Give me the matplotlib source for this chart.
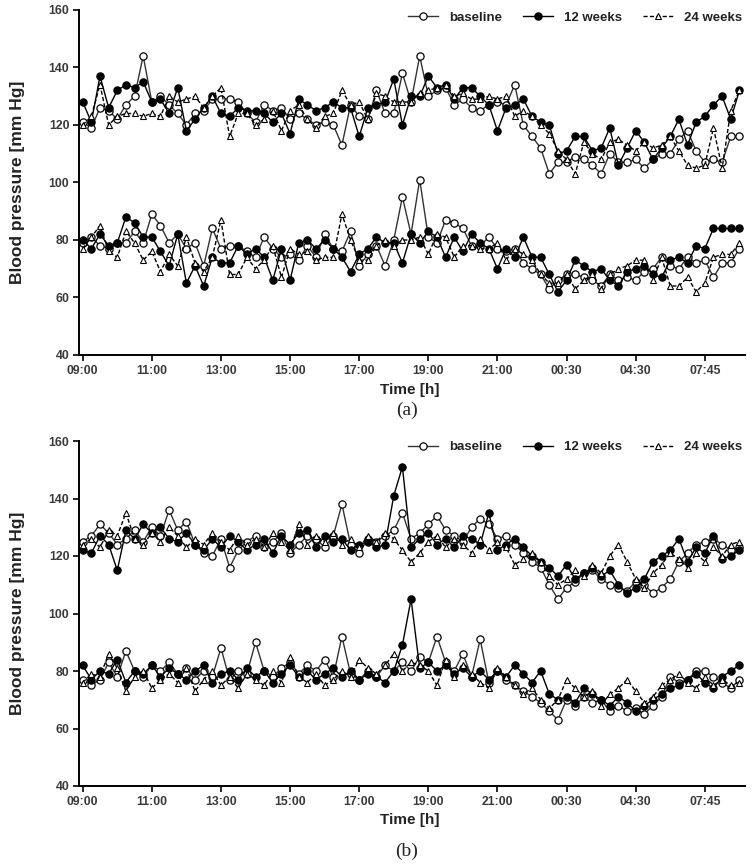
import matplotlib
matplotlib.use("Agg")
import matplotlib.pyplot as plt
from matplotlib.lines import Line2D

# ---------------- data ----------------
tick_labels = ["09:00", "11:00", "13:00", "15:00", "17:00", "19:00", "21:00", "00:30", "04:30", "07:45"]
series_names = ["baseline", "12 weeks", "24 weeks"]

# panel (a) systolic
base_s_a = [121, 119, 126, 125, 122, 127, 130, 144, 128, 130, 127, 124, 120, 124, 125, 129, 129, 129, 128, 124,
            121, 127, 125, 126, 122, 124, 122,
            120, 121, 120, 113, 127, 123, 122, 132, 124, 124, 138, 128, 144, 130, 132, 133, 127, 129, 126, 125,
            127, 128, 127, 134, 120, 116, 112,
            103, 107, 107, 109, 108, 106, 103, 110, 107, 107, 108, 105, 108, 110, 110, 115, 118, 111, 107, 108,
            107, 116, 116]
w12_s_a = [128, 121, 137, 126, 132, 134, 133, 135, 128, 129, 124, 133, 118, 122, 126, 130, 124, 123, 126, 125,
           125, 124, 121, 124, 117, 129, 127,
           125, 126, 128, 126, 126, 116, 126, 127, 128, 136, 120, 130, 130, 137, 133, 134, 129, 133, 133, 130,
           127, 118, 126, 127, 129, 123, 121,
           120, 110, 111, 116, 116, 111, 112, 119, 106, 112, 118, 114, 108, 112, 116, 122, 113, 121, 123, 127,
           130, 122, 132]
w24_s_a = [120, 123, 134, 120, 123, 124, 124, 123, 124, 123, 130, 128, 129, 130, 126, 130, 133, 116, 124, 124,
           120, 122, 125, 118, 125, 127, 122,
           119, 123, 124, 132, 127, 128, 122, 131, 130, 128, 128, 128, 131, 132, 133, 134, 130, 131, 129, 129,
           130, 129, 130, 123, 125, 123, 120,
           117, 111, 108, 103, 114, 110, 108, 114, 115, 113, 111, 114, 112, 113, 116, 111, 106, 105, 106, 119,
           105, 125, 132]
# panel (a) diastolic
base_d_a = [79, 81, 78, 77, 79, 79, 83, 79, 89, 85, 79, 82, 77, 79, 71, 84, 77, 78, 78, 76, 74, 81, 77, 74, 75,
            73, 78,
            74, 82, 77, 76, 83, 71, 75, 78, 71, 80, 95, 82, 101, 81, 79, 87, 86, 84, 78, 78, 81, 77, 76, 77, 72,
            70, 68,
            63, 66, 68, 68, 67, 66, 64, 68, 66, 67, 66, 69, 70, 74, 71, 70, 74, 72, 73, 67, 72, 72, 77]
w12_d_a = [80, 77, 82, 78, 79, 88, 86, 81, 81, 76, 71, 82, 65, 71, 64, 74, 72, 72, 78, 75, 77, 74, 66, 77, 66,
           79, 80,
           77, 80, 77, 74, 69, 75, 77, 81, 79, 79, 72, 82, 79, 83, 81, 74, 81, 76, 82, 79, 77, 70, 77, 74, 81,
           74, 74,
           68, 62, 66, 73, 71, 69, 70, 66, 64, 69, 70, 71, 68, 67, 73, 74, 72, 78, 77, 84, 84, 84, 84]
w24_d_a = [77, 81, 85, 76, 74, 83, 79, 73, 76, 69, 75, 71, 81, 72, 69, 74, 87, 68, 68, 74, 70, 73, 78, 67, 77,
           75, 76,
           73, 74, 74, 89, 80, 73, 73, 78, 80, 78, 80, 80, 81, 75, 82, 81, 74, 78, 78, 77, 77, 79, 73, 77, 75,
           73, 68,
           65, 65, 68, 63, 66, 68, 63, 68, 70, 71, 73, 73, 66, 74, 64, 64, 67, 62, 65, 74, 75, 75, 79]

# panel (b) systolic
base_s_b = [125, 127, 131, 128, 124, 126, 129, 125, 130, 127,
            136, 129, 132, 124, 121, 120, 126, 116, 122, 125,
            127, 123, 125, 128, 121, 124, 127, 126, 123, 127,
            138, 124, 121, 126, 125, 127, 129, 135, 126, 128,
            131, 134, 129, 127, 125, 130, 133, 131, 126, 127,
            124, 121, 118, 116, 110, 105, 109, 111, 114, 115,
            112, 110, 109, 108, 111, 110, 107, 109, 112, 118,
            121, 124, 125, 126, 124, 122, 123]
w12_s_b = [122, 121, 127, 124, 115, 129, 126, 131, 128, 130,
           126, 125, 128, 124, 122, 126, 123, 127, 125, 122,
           124, 126, 121, 127, 124, 128, 129, 123, 127, 125,
           126, 122, 124, 125, 123, 124, 141, 151, 123, 126,
           128, 124, 126, 123, 127, 126, 124, 135, 122, 124,
           126, 123, 120, 118, 116, 113, 117, 112, 114, 116,
           113, 115, 110, 107, 109, 112, 118, 120, 122, 126,
           118, 123, 121, 127, 119, 120, 122]
w24_s_b = [124, 126, 123, 129, 127, 135, 126, 124, 128, 125,
           130, 127, 123, 126, 124, 128, 125, 122, 127, 124,
           126, 123, 128, 125, 122, 131, 124, 127, 125, 128,
           124, 126, 123, 127, 125, 128, 126, 122, 118, 121,
           125, 127, 123, 126, 124, 121, 126, 122, 125, 123,
           117, 119, 121, 118, 113, 110, 112, 115, 113, 117,
           114, 120, 124, 118, 112, 109, 114, 117, 121, 119,
           116, 121, 118, 123, 120, 124, 125]
# panel (b) diastolic
base_d_b = [77, 75, 77, 83, 78, 87, 80, 78, 82, 80,
            83, 79, 81, 77, 80, 78, 88, 77, 80, 79,
            90, 80, 78, 81, 83, 79, 82, 80, 84, 78,
            92, 79, 77, 80, 78, 82, 80, 83, 80, 85,
            83, 92, 83, 80, 86, 78, 91, 76, 80, 77,
            75, 73, 71, 69, 66, 63, 70, 68, 71, 69,
            70, 66, 68, 66, 67, 65, 68, 71, 78, 76,
            77, 80, 80, 78, 76, 74, 77]
w12_d_b = [82, 77, 80, 79, 84, 76, 80, 79, 82, 78,
           81, 79, 77, 80, 82, 76, 79, 80, 77, 81,
           78, 80, 76, 79, 82, 78, 80, 77, 79, 81,
           78, 80, 77, 79, 78, 76, 80, 89, 105, 81,
           83, 80, 82, 79, 81, 78, 80, 77, 80, 78,
           82, 79, 76, 80, 72, 70, 71, 69, 74, 72,
           70, 68, 71, 69, 66, 68, 70, 72, 74, 75,
           77, 79, 76, 74, 78, 80, 82]
w24_d_b = [76, 79, 78, 86, 81, 73, 78, 80, 74, 77,
           79, 76, 81, 73, 77, 80, 75, 78, 74, 79,
           77, 75, 80, 76, 85, 78, 76, 79, 75, 77,
           80, 78, 84, 81, 79, 82, 86, 80, 83, 82,
           80, 75, 84, 78, 82, 79, 76, 74, 81, 78,
           75, 72, 74, 70, 67, 70, 77, 74, 71, 73,
           68, 72, 74, 77, 73, 69, 71, 75, 77, 79,
           76, 74, 78, 75, 77, 75, 76]

# ---------------- style ----------------
plt.rcParams['font.family'] = ['Liberation Sans', 'DejaVu Sans']
TXT = '#3a3a3a'

styles = [
    dict(marker='o', markerfacecolor='white', markeredgecolor='black', color='#333333',
         linestyle='-', linewidth=1.0, markersize=5.2, markeredgewidth=0.9),
    dict(marker='o', markerfacecolor='black', markeredgecolor='black', color='black',
         linestyle='-', linewidth=1.0, markersize=5.2, markeredgewidth=0.9),
    dict(marker='^', markerfacecolor='white', markeredgecolor='black', color='black',
         linestyle=(0, (3.0, 1.6)), linewidth=1.0, markersize=5.0, markeredgewidth=0.8),
]

fig = plt.figure(figsize=(7.55, 8.65), dpi=100)

W, H = 755.0, 865.0
left_px, right_px = 79, 745
panels = [
    dict(top=10, bottom=355, data=[(base_s_a, base_d_a), (w12_s_a, w12_d_a), (w24_s_a, w24_d_a)],
         label="(a)", time_y=390, lab_y=410, leg_y=18),
    dict(top=441, bottom=786, data=[(base_s_b, base_d_b), (w12_s_b, w12_d_b), (w24_s_b, w24_d_b)],
         label="(b)", time_y=820, lab_y=851, leg_y=447),
]

for p in panels:
    ax = fig.add_axes([left_px / W, 1 - p['bottom'] / H,
                       (right_px - left_px) / W, (p['bottom'] - p['top']) / H])
    n = len(p['data'][0][0])
    x = list(range(n))
    order = [0, 2, 1]
    for k in order:
        s, d = p['data'][k]
        ax.plot(x, s, zorder=3 + k, **styles[k])
        ax.plot(x, d, zorder=3 + k, **styles[k])
    ax.set_xlim(-0.43, 76.65)
    ax.set_ylim(40, 160)
    ax.set_yticks(range(40, 161, 20))
    ax.set_xticks(range(0, 8 * len(tick_labels), 8))
    ax.set_xticklabels(tick_labels)
    for sp in ['top', 'right']:
        ax.spines[sp].set_visible(False)
    for sp in ['left', 'bottom']:
        ax.spines[sp].set_linewidth(1.4)
        ax.spines[sp].set_color('black')
    ax.tick_params(axis='both', direction='out', length=4, width=1.2, labelsize=8.8,
                   labelcolor=TXT, pad=3)
    for lab in ax.get_xticklabels() + ax.get_yticklabels():
        lab.set_fontweight('bold')

    handles = [Line2D([], [], **styles[k]) for k in range(3)]
    leg = fig.legend(handles, series_names, loc='center right',
                     bbox_to_anchor=(742 / W, 1 - p['leg_y'] / H),
                     ncol=3, frameon=False, handlelength=2.3, columnspacing=1.6,
                     handletextpad=0.8, borderpad=0, borderaxespad=0,
                     prop=dict(weight='bold', size=9.5))
    for t in leg.get_texts():
        t.set_color('#222222')

    fig.text(18 / W, 1 - ((p['top'] + p['bottom']) / 2) / H, "Blood pressure [mm Hg]",
             rotation=90, ha='center', va='center', fontsize=12.5, fontweight='bold', color='#222222')
    fig.text(410 / W, 1 - p['time_y'] / H, "Time [h]", ha='center', va='center',
             fontsize=11, fontweight='bold', color='#222222')
    fig.text(407 / W, 1 - p['lab_y'] / H, p['label'], ha='center', va='center',
             fontsize=14, family=['Liberation Serif', 'DejaVu Serif'], color='#222222')

fig.savefig("out.png", dpi=100)
